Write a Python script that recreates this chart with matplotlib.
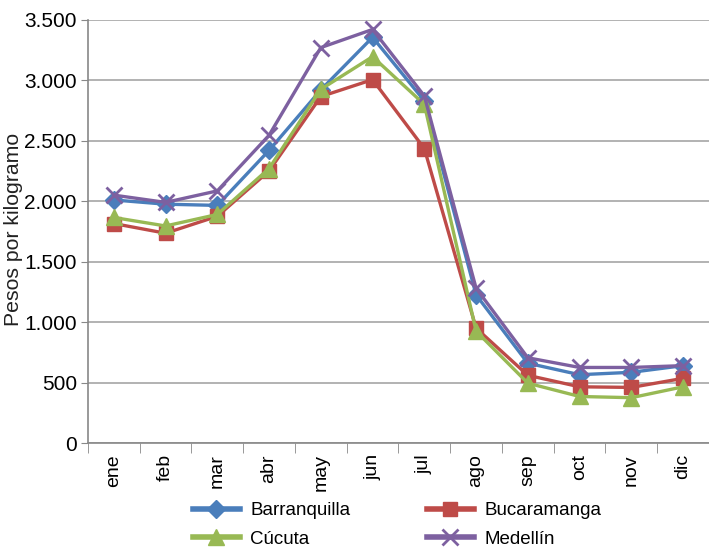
import matplotlib.pyplot as plt
import numpy as np
from matplotlib.ticker import FuncFormatter

plt.rcParams['font.family'] = ['Liberation Sans', 'DejaVu Sans']

# meses
months = ['ene', 'feb', 'mar', 'abr', 'may', 'jun', 'jul', 'ago', 'sep', 'oct', 'nov', 'dic']

# precios por ciudad (pesos por kilogramo)
barranquilla = [2010, 1975, 1965, 2420, 2920, 3355, 2830, 1225, 660, 565, 585, 640]
bucaramanga = [1815, 1735, 1875, 2250, 2865, 3005, 2435, 950, 560, 465, 460, 535]
cucuta = [1865, 1795, 1890, 2270, 2925, 3195, 2800, 925, 495, 385, 375, 465]
medellin = [2050, 1990, 2085, 2545, 3270, 3420, 2870, 1280, 705, 625, 625, 640]

fig = plt.figure(figsize=(7.09, 5.49), dpi=100)
ax = fig.add_axes([0.124, 0.193, 0.876, 0.771])

x = np.arange(len(months))
lw = 2.4
ax.plot(x, barranquilla, color='#4A7EBB', lw=lw, marker='D', ms=9, label='Barranquilla', zorder=3)
ax.plot(x, bucaramanga, color='#BE4B48', lw=lw, marker='s', ms=10, label='Bucaramanga', zorder=3)
ax.plot(x, cucuta, color='#98B954', lw=lw, marker='^', ms=11, label='Cúcuta', zorder=3)
ax.plot(x, medellin, color='#7D60A0', lw=lw, marker='x', ms=11, mew=2, label='Medellín', zorder=4)

ax.set_xlim(-0.5, 11.5)
ax.set_ylim(0, 3500)
ax.set_yticks(np.arange(0, 3501, 500))
ax.yaxis.set_major_formatter(FuncFormatter(lambda v, p: f'{int(v):,}'.replace(',', '.')))
ax.set_xticks(x)
ax.set_xticklabels(months, rotation=90, fontsize=14)
ax.set_xticks(np.arange(-0.5, 12, 1), minor=True)
ax.tick_params(axis='x', which='major', length=0, pad=8)
ax.tick_params(axis='x', which='minor', length=7, color='#888888')
ax.tick_params(axis='y', length=5, color='#888888', labelsize=15, pad=3)
ax.grid(axis='y', color='#A6A6A6', lw=1.2)
ax.set_axisbelow(True)
for s in ['top', 'right']:
    ax.spines[s].set_visible(False)
for s in ['left', 'bottom']:
    ax.spines[s].set_color('#888888')
    ax.spines[s].set_linewidth(1.2)

ax.set_ylabel('Pesos por kilogramo', fontsize=15.3, color='#222222')
ax.yaxis.set_label_coords(-0.105, 0.5035)

leg = fig.legend(handles=[ax.lines[0], ax.lines[2], ax.lines[1], ax.lines[3]],
                 loc='center left', bbox_to_anchor=(0.272, 0.0437), ncol=2, frameon=False,
                 fontsize=13.5, handlelength=2.5, columnspacing=4.1, handletextpad=0.55,
                 labelspacing=0.6, borderpad=0, borderaxespad=0)
for h in leg.legend_handles:
    h.set_linewidth(4)

fig.savefig('out.png', dpi=100)
